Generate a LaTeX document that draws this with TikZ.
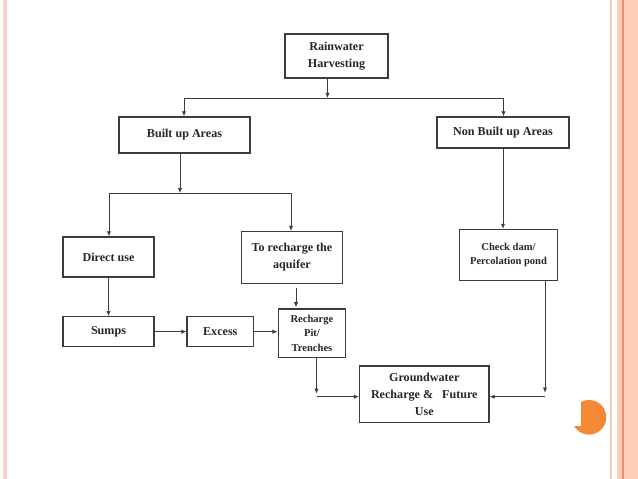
\documentclass[tikz,border=0pt]{standalone}
\usepackage{fontspec}
\setmainfont{Liberation Serif}
\usetikzlibrary{arrows.meta,positioning,calc}
\definecolor{ink}{RGB}{45,35,35}
\definecolor{edge}{RGB}{60,60,60}
\definecolor{peach}{RGB}{255,204,184}
\definecolor{rim}{RGB}{232,145,112}
\definecolor{blush}{RGB}{243,200,184}
\definecolor{dot}{RGB}{245,136,55}
\begin{document}
\begin{tikzpicture}[x=0.025cm,y=-0.025cm,>={Latex[length=3.6pt,width=3pt]},font=\fontsize{8.6}{12}\selectfont\bfseries]
\tikzstyle{b}=[draw=edge,line width=0.9pt,align=center,text=ink,inner sep=1pt]
\tikzstyle{w}=[draw=edge,line width=0.5pt]
\tikzstyle{sm}=[font=\fontsize{7.5}{10.6}\selectfont\bfseries]
\useasboundingbox (0,0) rectangle (638,479);
\fill[blush!70] (3,0) rectangle (7,479); \fill[blush] (4.5,0) rectangle (5.5,479);
\fill[blush] (609.5,0) rectangle (611.5,479);
\fill[peach] (617,0) rectangle (638,479); \fill[rim] (622,0) rectangle (623.5,479);
\fill[dot] (589,417.3) circle (17.3); \fill[white] (570,398) rectangle (580.7,426);
\node[b,minimum width=2.575cm,minimum height=1.1cm] (rain) at (336.5,56) {Rainwater\\Harvesting};
\node[b,minimum width=3.275cm,minimum height=0.9cm] (built) at (184.5,135) {Built up Areas};
\node[b,minimum width=3.3cm,minimum height=0.775cm] (nonbuilt) at (503,132.5) {Non Built up Areas};
\node[b,minimum width=2.275cm,minimum height=1.0cm] (direct) at (108.5,257) {Direct use};
\node[b,minimum width=2.525cm,minimum height=1.3cm] (aquifer) at (292,257.5) {To recharge the\\aquifer};
\node[b,sm,minimum width=2.45cm,minimum height=1.275cm] (check) at (508.5,255) {Check dam/\\Percolation pond};
\node[b,minimum width=2.275cm,minimum height=0.75cm] (sumps) at (108.5,331.7) {Sumps};
\node[b,minimum width=1.66cm,minimum height=0.75cm] (excess) at (220.3,331.7) {Excess};
\node[b,sm,minimum width=1.69cm,minimum height=1.22cm] (pit) at (312,333.3) {Recharge\\Pit/\\Trenches};
\node[b,minimum width=3.235cm,minimum height=1.41cm] (gw) at (424.3,394.2) {Groundwater\\Recharge \&~~~Future\\Use};
\coordinate (top) at (327.5,98); \coordinate (topL) at (184,98); \coordinate (topR) at (503.5,98);
\coordinate (mid) at (180,193); \coordinate (midL) at (109,193); \coordinate (midR) at (291,193);
\coordinate (pitdn) at (316.5,396.7); \coordinate (pitend) at (316.5,393.7);
\coordinate (chkdn) at (545,396.7); \coordinate (chkend) at (545,392.7);
\draw[w,->] (rain.south -| top) -- (top);
\draw[w] (topL) -- (topR);
\draw[w,->] (topL) -- (topL |- built.north);
\draw[w,->] (topR) -- (topR |- nonbuilt.north);
\draw[w,->] (built.south -| mid) -- (mid);
\draw[w] (midL) -- (midR);
\draw[w,->] (midL) -- (midL |- direct.north);
\draw[w,->] (midR) -- (midR |- aquifer.north);
\draw[w,->] (nonbuilt.south) -- (nonbuilt.south |- check.north);
\draw[w,->] (direct) -- (sumps);
\draw[w,->] (sumps) -- (excess);
\draw[w,->] (excess.east) -- (excess.east -| pit.west);
\draw[w,->] ([shift={(4,4)}]aquifer.south) -- ([shift={(-16,-1)}]pit.north);
\draw[w,->] (pit.south -| pitend) -- (pitend);
\draw[w,->] (pitdn) -- (gw.west |- pitdn);
\draw[w,->] (check.south -| chkend) -- (chkend);
\draw[w,->] (chkdn) -- (gw.east |- chkdn);
\end{tikzpicture}
\end{document}
